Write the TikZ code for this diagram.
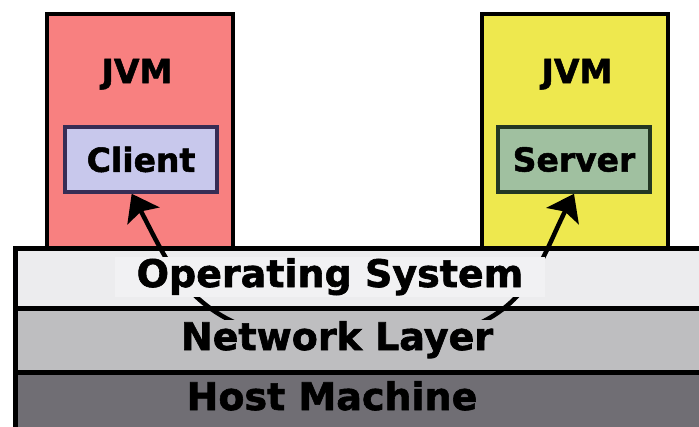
\documentclass[tikz,border=0pt]{standalone}
\usepackage{fontspec}
\setmainfont{DejaVu Sans}
\newfontfamily\heavyfont[FakeBold=1.6]{DejaVu Sans Bold}
\usetikzlibrary{arrows.meta,calc}

\definecolor{jvmred}{RGB}{248,128,128}
\definecolor{jvmyellow}{RGB}{238,232,78}
\definecolor{clientfill}{RGB}{200,200,236}
\definecolor{clientedge}{RGB}{55,45,85}
\definecolor{serverfill}{RGB}{160,192,160}
\definecolor{serveredge}{RGB}{35,55,35}
\definecolor{osgray}{RGB}{236,236,238}
\definecolor{oslabelbg}{RGB}{241,241,243}
\definecolor{netgray}{RGB}{190,190,192}
\definecolor{hostgray}{RGB}{112,110,116}

\tikzset{
  layerbox/.style={draw=black, line width=5pt, rectangle, inner sep=0pt, minimum width=705pt},
  jvmbox/.style={draw=black, line width=4pt, rectangle, inner sep=0pt, minimum width=186pt, minimum height=234pt},
  appbox/.style={rectangle, line width=3.5pt, inner sep=0pt, minimum width=152pt, minimum height=65pt,
                 font=\heavyfont\fontsize{33}{38}\selectfont},
  jvmlabel/.style={anchor=base, inner sep=0pt, font=\heavyfont\fontsize{33}{38}\selectfont},
  layerlabel/.style={anchor=base, inner sep=1.5pt, font=\heavyfont\fontsize{38}{44}\selectfont},
  link/.style={line width=4.5pt, black,
               {Stealth[length=25pt,width=36pt,inset=5pt]}-{Stealth[length=25pt,width=36pt,inset=5pt]}}
}

\begin{document}
\begin{tikzpicture}[x=1pt,y=-1pt]
  \clip (0,0) rectangle (699,426);
  \fill[white] (0,0) rectangle (699,426);

  % stacked platform layers
  \node[layerbox, fill=osgray,   minimum height=60pt] (oslayer)   at (367.5,278) {};
  \node[layerbox, fill=netgray,  minimum height=64pt] (netlayer)  at (367.5,340) {};
  \node[layerbox, fill=hostgray, minimum height=68pt] (hostlayer) at (367.5,406) {};

  % the two virtual machines
  \node[jvmbox, fill=jvmred]    (jvmL) at (140,131) {};
  \node[jvmbox, fill=jvmyellow] (jvmR) at (574.5,131) {};
  \node[jvmlabel] (jvmLtext) at (137,83) {JVM};
  \node[jvmlabel] (jvmRtext) at (577,83) {JVM};

  \node[appbox, draw=clientedge, fill=clientfill] (client) at (141,159.5) {Client};
  \node[appbox, draw=serveredge, fill=serverfill] (server) at (574,159.5) {Server};

  % communication path through the OS and network
  \coordinate (ctip)  at ($(client.south west)!0.44!(client.south east)$);
  \coordinate (bendL) at (248,328);
  \coordinate (bendR) at (468,328);
  \draw[link] (ctip) to[out=-62,in=160] (bendL) -- (bendR) to[out=20,in=-117] (server.south);

  % layer captions
  \node[layerlabel, fill=oslabelbg, inner xsep=22pt] (ostext) at (330,287) {Operating System};
  \node[layerlabel, fill=netgray] (nettext)  at (337,350) {Network Layer};
  \node[layerlabel, fill=hostgray] (hosttext) at (332,410) {Host Machine};
\end{tikzpicture}
\end{document}
